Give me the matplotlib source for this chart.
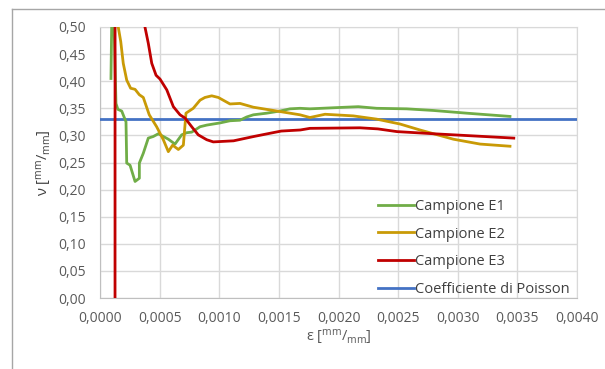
import numpy as np
import matplotlib
matplotlib.use('Agg')
import matplotlib.pyplot as plt
from matplotlib.lines import Line2D

# ---- data ----
e1_x = [0.000092, 0.000105, 0.000134, 0.000150, 0.000182, 0.000218, 0.000224,
        0.000252, 0.000294, 0.000330, 0.000330, 0.000363, 0.000405, 0.000447,
        0.000489, 0.000531, 0.000573, 0.000629, 0.000685, 0.000727, 0.000769,
        0.000839, 0.000895, 0.000950, 0.001006, 0.001090, 0.001174, 0.001230,
        0.001286, 0.001398, 0.001510, 0.001593, 0.001677, 0.001760, 0.001957,
        0.002166, 0.002320, 0.002572, 0.002795, 0.003075, 0.003438]
e1_y = [0.405, 0.620, 0.359, 0.348, 0.345, 0.325, 0.249,
        0.245, 0.215, 0.221, 0.249, 0.267, 0.295, 0.298,
        0.303, 0.298, 0.293, 0.284, 0.301, 0.305, 0.306,
        0.316, 0.319, 0.321, 0.323, 0.327, 0.328, 0.334,
        0.338, 0.341, 0.345, 0.349, 0.350, 0.349, 0.351,
        0.353, 0.350, 0.349, 0.346, 0.341, 0.335]

e2_x = [0.000140, 0.000153, 0.000174, 0.000195, 0.000224, 0.000257, 0.000294,
        0.000330, 0.000363, 0.000413, 0.000475, 0.000531, 0.000573, 0.000609,
        0.000657, 0.000699, 0.000721, 0.000782, 0.000839, 0.000880, 0.000937,
        0.000992, 0.001090, 0.001174, 0.001286, 0.001398, 0.001537, 0.001677,
        0.001760, 0.001887, 0.002124, 0.002320, 0.002516, 0.002683, 0.002963,
        0.003187, 0.003438]
e2_y = [0.620, 0.500, 0.473, 0.433, 0.402, 0.387, 0.385,
        0.375, 0.370, 0.338, 0.316, 0.292, 0.270, 0.282,
        0.274, 0.282, 0.341, 0.350, 0.365, 0.370, 0.373,
        0.370, 0.358, 0.359, 0.352, 0.348, 0.343, 0.338,
        0.333, 0.339, 0.336, 0.330, 0.321, 0.310, 0.293,
        0.284, 0.280]

e3_x = [0.000126, 0.000127, 0.000377, 0.000405, 0.000434, 0.000470, 0.000503,
        0.000560, 0.000615, 0.000671, 0.000713, 0.000769, 0.000824, 0.000895,
        0.000950, 0.001120, 0.001290, 0.001450, 0.001520, 0.001680, 0.001760,
        0.002180, 0.002330, 0.002490, 0.002800, 0.003470]
e3_y = [0.000, 1.600, 0.500, 0.470, 0.433, 0.411, 0.404,
        0.384, 0.353, 0.338, 0.332, 0.316, 0.301, 0.292,
        0.288, 0.290, 0.298, 0.305, 0.308, 0.310, 0.313,
        0.314, 0.312, 0.307, 0.303, 0.295]

poisson_x = [0.0, 0.004]
poisson_y = [0.33, 0.33]

labels = ['Campione E1', 'Campione E2', 'Campione E3', 'Coefficiente di Poisson']
colors = ['#70AD47', '#C99A06', '#C00000', '#4472C4']

x_ticks = np.arange(0, 0.00401, 0.0005)
y_ticks = np.arange(0, 0.501, 0.05)

FONT = 'Open Sans'
plt.rcParams['font.family'] = [FONT, 'DejaVu Sans']
plt.rcParams['mathtext.fontset'] = 'custom'
plt.rcParams['mathtext.rm'] = FONT
plt.rcParams['mathtext.it'] = FONT
plt.rcParams['mathtext.sf'] = FONT

text_col = '#595959'
grid_col = '#D9D9D9'

fig = plt.figure(figsize=(6.05, 3.69), dpi=100)
ax = fig.add_axes([100 / 605, 1 - 298 / 369, 477 / 605, 271 / 369])

# chart area border (only top and left visible in the crop)
fig.add_artist(Line2D([12 / 605, 12 / 605], [0, 1 - 9 / 369],
                      color='#A6A6A6', lw=1.0, transform=fig.transFigure))
fig.add_artist(Line2D([12 / 605, 1], [1 - 9 / 369, 1 - 9 / 369],
                      color='#A6A6A6', lw=1.0, transform=fig.transFigure))

lw = 2.0
ax.plot(e1_x, e1_y, color=colors[0], lw=lw, label=labels[0], zorder=4)
ax.plot(e2_x, e2_y, color=colors[1], lw=lw, label=labels[1], zorder=5)
ax.plot(e3_x, e3_y, color=colors[2], lw=lw, label=labels[2], zorder=6)
ax.plot(poisson_x, poisson_y, color=colors[3], lw=lw, label=labels[3], zorder=3)

ax.set_xlim(0, 0.004)
ax.set_ylim(0, 0.5)
ax.set_xticks(x_ticks)
ax.set_yticks(y_ticks)
ax.set_xticklabels([f'{v:.4f}'.replace('.', ',') for v in x_ticks])
ax.set_yticklabels([f'{v:.2f}'.replace('.', ',') for v in y_ticks])
ax.tick_params(length=0, labelsize=10, labelcolor=text_col)
ax.tick_params(axis='y', pad=10)
ax.tick_params(axis='x', pad=9)

ax.grid(True, color=grid_col, lw=1.0)
ax.set_axisbelow(True)
for side in ['top', 'right']:
    ax.spines[side].set_color(grid_col)
for side in ['left', 'bottom']:
    ax.spines[side].set_color('#BFBFBF')

ax.set_xlabel(r'ε [$^{\mathrm{mm}}/_{\mathrm{mm}}$]', fontsize=10.5,
              color=text_col, labelpad=2)
ax.set_ylabel(r'ν [$^{\mathrm{mm}}/_{\mathrm{mm}}$]', fontsize=10.5,
              color='#404040', labelpad=3)

ax.legend(loc='lower left', bbox_to_anchor=(0.583, 0.005), frameon=False,
          fontsize=10.5, handlelength=2.45, handletextpad=0.1,
          labelspacing=0.86, borderpad=0, borderaxespad=0,
          labelcolor='#404040')

fig.savefig('out.png', dpi=100)
